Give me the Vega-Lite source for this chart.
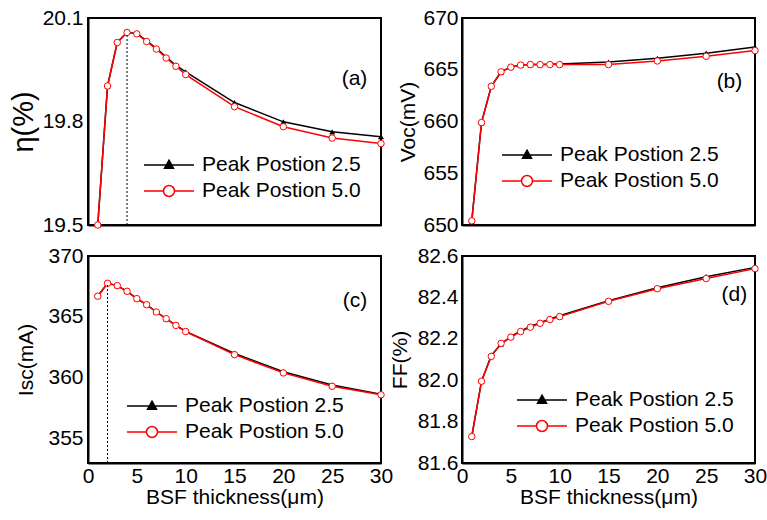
{
  "$schema": "https://vega.github.io/schema/vega-lite/v6.json",
  "padding": {"left": 8, "top": 6, "right": 0, "bottom": 0},
  "config": {
    "font": "Liberation Sans",
    "view": {"stroke": "black", "strokeWidth": 2},
    "axis": {
      "labelFont": "Liberation Sans", "labelFontSize": 21, "labelColor": "black",
      "titleFont": "Liberation Sans", "titleFontSize": 21, "titleFontWeight": "normal", "titleColor": "black",
      "domainColor": "black", "domainWidth": 2, "tickColor": "black", "tickWidth": 1.5,
      "grid": false, "labelFlush": false, "tickSize": 0, "labelPadding": 5, "titlePadding": 4, "labelOverlap": false
    },
    "legend": {
      "labelFont": "Liberation Sans", "labelFontSize": 21, "labelColor": "black", "labelLimit": 400,
      "symbolSize": 400, "labelOffset": 22, "rowPadding": 5, "orient": "none"
    }
  },
  "datasets": {
    "d": [
      {"x": 1, "s": "Peak Postion 2.5", "eta": 19.50, "voc": 650.4, "isc": 366.7, "ff": 81.728},
      {"x": 2, "s": "Peak Postion 2.5", "eta": 19.903, "voc": 659.9, "isc": 367.76, "ff": 81.995},
      {"x": 3, "s": "Peak Postion 2.5", "eta": 20.030, "voc": 663.4, "isc": 367.57, "ff": 82.12},
      {"x": 4, "s": "Peak Postion 2.5", "eta": 20.058, "voc": 664.8, "isc": 367.1, "ff": 82.175},
      {"x": 5, "s": "Peak Postion 2.5", "eta": 20.055, "voc": 665.28, "isc": 366.5, "ff": 82.21},
      {"x": 6, "s": "Peak Postion 2.5", "eta": 20.034, "voc": 665.45, "isc": 366.0, "ff": 82.238},
      {"x": 7, "s": "Peak Postion 2.5", "eta": 20.012, "voc": 665.5, "isc": 365.4, "ff": 82.26},
      {"x": 8, "s": "Peak Postion 2.5", "eta": 19.987, "voc": 665.5, "isc": 364.85, "ff": 82.278},
      {"x": 9, "s": "Peak Postion 2.5", "eta": 19.963, "voc": 665.52, "isc": 364.3, "ff": 82.296},
      {"x": 10, "s": "Peak Postion 2.5", "eta": 19.944, "voc": 665.55, "isc": 363.8, "ff": 82.312},
      {"x": 15, "s": "Peak Postion 2.5", "eta": 19.855, "voc": 665.75, "isc": 362.0, "ff": 82.384},
      {"x": 20, "s": "Peak Postion 2.5", "eta": 19.799, "voc": 666.1, "isc": 360.5, "ff": 82.447},
      {"x": 25, "s": "Peak Postion 2.5", "eta": 19.770, "voc": 666.6, "isc": 359.4, "ff": 82.5},
      {"x": 30, "s": "Peak Postion 2.5", "eta": 19.756, "voc": 667.2, "isc": 358.65, "ff": 82.545},
      {"x": 1, "s": "Peak Postion 5.0", "eta": 19.50, "voc": 650.4, "isc": 366.7, "ff": 81.728},
      {"x": 2, "s": "Peak Postion 5.0", "eta": 19.903, "voc": 659.9, "isc": 367.76, "ff": 81.995},
      {"x": 3, "s": "Peak Postion 5.0", "eta": 20.029, "voc": 663.4, "isc": 367.57, "ff": 82.115},
      {"x": 4, "s": "Peak Postion 5.0", "eta": 20.058, "voc": 664.8, "isc": 367.1, "ff": 82.178},
      {"x": 5, "s": "Peak Postion 5.0", "eta": 20.054, "voc": 665.25, "isc": 366.5, "ff": 82.208},
      {"x": 6, "s": "Peak Postion 5.0", "eta": 20.032, "voc": 665.45, "isc": 366.0, "ff": 82.235},
      {"x": 7, "s": "Peak Postion 5.0", "eta": 20.010, "voc": 665.5, "isc": 365.4, "ff": 82.256},
      {"x": 8, "s": "Peak Postion 5.0", "eta": 19.984, "voc": 665.5, "isc": 364.85, "ff": 82.275},
      {"x": 9, "s": "Peak Postion 5.0", "eta": 19.960, "voc": 665.5, "isc": 364.3, "ff": 82.293},
      {"x": 10, "s": "Peak Postion 5.0", "eta": 19.936, "voc": 665.5, "isc": 363.8, "ff": 82.307},
      {"x": 15, "s": "Peak Postion 5.0", "eta": 19.843, "voc": 665.5, "isc": 361.9, "ff": 82.381},
      {"x": 20, "s": "Peak Postion 5.0", "eta": 19.785, "voc": 665.85, "isc": 360.4, "ff": 82.442},
      {"x": 25, "s": "Peak Postion 5.0", "eta": 19.752, "voc": 666.3, "isc": 359.3, "ff": 82.491},
      {"x": 30, "s": "Peak Postion 5.0", "eta": 19.736, "voc": 666.85, "isc": 358.6, "ff": 82.539}
    ]
  },
  "columns": 2,
  "spacing": {"row": 8, "column": -6},
  "resolve": {
    "scale": {"x": "independent", "y": "independent", "stroke": "independent"},
    "legend": {"stroke": "independent"}
  },
  "concat": [
    {
      "width": 293, "height": 207,
      "data": {"name": "d"},
      "layer": [
        {
          "mark": {"type": "line", "strokeWidth": 1.5},
          "encoding": {
            "x": {"field": "x", "type": "quantitative", "scale": {"domain": [0, 30], "nice": false},
              "axis": {"title": null, "labels": false, "values": [0, 2.5, 5, 7.5, 10, 12.5, 15, 17.5, 20, 22.5, 25, 27.5, 30],
                "encode": {"ticks": {"update": {"y2": {"signal": "datum.value % 5 === 0 ? -6 : -3"}}}}}},
            "y": {"field": "eta", "type": "quantitative", "scale": {"domain": [19.5, 20.1], "nice": false, "zero": false},
              "axis": {"title": "η(%)", "titleFontSize": 29, "format": ".1f", "values": [19.5, 19.65, 19.8, 19.95, 20.1],
                "labelExpr": "abs(datum.value*10 - round(datum.value*10)) < 0.01 ? datum.label : ''",
                "encode": {"ticks": {"update": {"x2": {"signal": "abs(datum.value*10 - round(datum.value*10)) < 0.01 ? 6 : 3"}}}}}},
            "stroke": {"field": "s", "type": "nominal", "scale": {"domain": ["Peak Postion 2.5", "Peak Postion 5.0"], "range": ["black", "red"]},
              "legend": {"title": null, "legendX": 70, "legendY": 136,
                "encode": {"symbols": {"update": {
                  "shape": {"signal": "datum.value === 'Peak Postion 2.5' ? 'M-2.5,0H2.5M0,-0.48L0.45,0.33L-0.45,0.33Z' : 'M-2.5,0H-0.55M0.55,0H2.5M0.55,0A0.55,0.55,0,1,1,-0.55,0A0.55,0.55,0,1,1,0.55,0Z'"},
                  "fill": {"signal": "datum.value === 'Peak Postion 2.5' ? 'black' : 'white'"},
                  "strokeWidth": {"value": 1.5}, "opacity": {"value": 1}, "fillOpacity": {"value": 1}}}}}}
          }
        },
        {
          "transform": [{"filter": "datum.s === 'Peak Postion 2.5'"}],
          "mark": {"type": "point", "shape": "triangle-up", "size": 36, "filled": true, "color": "black", "opacity": 1},
          "encoding": {"x": {"field": "x", "type": "quantitative"}, "y": {"field": "eta", "type": "quantitative"}}
        },
        {
          "transform": [{"filter": "datum.s === 'Peak Postion 5.0'"}],
          "mark": {"type": "point", "shape": "circle", "size": 42, "fill": "white", "stroke": "red", "strokeWidth": 1, "opacity": 1, "fillOpacity": 1},
          "encoding": {"x": {"field": "x", "type": "quantitative"}, "y": {"field": "eta", "type": "quantitative"}}
        },
        {
          "data": {"values": [{}]},
          "mark": {"type": "rule", "strokeDash": [2, 2], "strokeWidth": 1, "color": "black"},
          "encoding": {"x": {"datum": 4}, "y": {"datum": 19.5}, "y2": {"datum": 20.05}}
        },
        {
          "data": {"values": [{}]},
          "mark": {"type": "text", "text": "(a)", "fontSize": 21, "align": "right", "baseline": "middle", "color": "black"},
          "encoding": {"x": {"datum": 28.6}, "y": {"datum": 19.923}}
        }
      ]
    },
    {
      "width": 293, "height": 207,
      "data": {"name": "d"},
      "layer": [
        {
          "mark": {"type": "line", "strokeWidth": 1.5},
          "encoding": {
            "x": {"field": "x", "type": "quantitative", "scale": {"domain": [0, 30], "nice": false},
              "axis": {"title": null, "labels": false, "values": [0, 2.5, 5, 7.5, 10, 12.5, 15, 17.5, 20, 22.5, 25, 27.5, 30],
                "encode": {"ticks": {"update": {"y2": {"signal": "datum.value % 5 === 0 ? -6 : -3"}}}}}},
            "y": {"field": "voc", "type": "quantitative", "scale": {"domain": [650, 670], "nice": false, "zero": false},
              "axis": {"title": "Voc(mV)", "format": "d", "values": [650, 652.5, 655, 657.5, 660, 662.5, 665, 667.5, 670],
                "labelExpr": "datum.value % 5 === 0 ? datum.label : ''", "labelPadding": 4,
                "encode": {"ticks": {"update": {"x2": {"signal": "datum.value % 5 === 0 ? 6 : 3"}}}}}},
            "stroke": {"field": "s", "type": "nominal", "scale": {"domain": ["Peak Postion 2.5", "Peak Postion 5.0"], "range": ["black", "red"]},
              "legend": {"title": null, "legendX": 54, "legendY": 126,
                "encode": {"symbols": {"update": {
                  "shape": {"signal": "datum.value === 'Peak Postion 2.5' ? 'M-2.5,0H2.5M0,-0.48L0.45,0.33L-0.45,0.33Z' : 'M-2.5,0H-0.55M0.55,0H2.5M0.55,0A0.55,0.55,0,1,1,-0.55,0A0.55,0.55,0,1,1,0.55,0Z'"},
                  "fill": {"signal": "datum.value === 'Peak Postion 2.5' ? 'black' : 'white'"},
                  "strokeWidth": {"value": 1.5}, "opacity": {"value": 1}, "fillOpacity": {"value": 1}}}}}}
          }
        },
        {
          "transform": [{"filter": "datum.s === 'Peak Postion 2.5'"}],
          "mark": {"type": "point", "shape": "triangle-up", "size": 36, "filled": true, "color": "black", "opacity": 1},
          "encoding": {"x": {"field": "x", "type": "quantitative"}, "y": {"field": "voc", "type": "quantitative"}}
        },
        {
          "transform": [{"filter": "datum.s === 'Peak Postion 5.0'"}],
          "mark": {"type": "point", "shape": "circle", "size": 42, "fill": "white", "stroke": "red", "strokeWidth": 1, "opacity": 1, "fillOpacity": 1},
          "encoding": {"x": {"field": "x", "type": "quantitative"}, "y": {"field": "voc", "type": "quantitative"}}
        },
        {
          "data": {"values": [{}]},
          "mark": {"type": "text", "text": "(b)", "fontSize": 21, "align": "right", "baseline": "middle", "color": "black"},
          "encoding": {"x": {"datum": 28.7}, "y": {"datum": 663.85}}
        }
      ]
    },
    {
      "width": 293, "height": 207,
      "data": {"name": "d"},
      "layer": [
        {
          "mark": {"type": "line", "strokeWidth": 1.5},
          "encoding": {
            "x": {"field": "x", "type": "quantitative", "scale": {"domain": [0, 30], "nice": false},
              "axis": {"title": "BSF thickness(μm)", "values": [0, 2.5, 5, 7.5, 10, 12.5, 15, 17.5, 20, 22.5, 25, 27.5, 30],
                "labelExpr": "datum.value % 5 === 0 ? datum.label : ''", "labelPadding": 2, "titlePadding": 0,
                "encode": {"ticks": {"update": {"y2": {"signal": "datum.value % 5 === 0 ? -6 : -3"}}}}}},
            "y": {"field": "isc", "type": "quantitative", "scale": {"domain": [353, 370], "nice": false, "zero": false},
              "axis": {"title": "Isc(mA)", "format": "d", "values": [355, 357.5, 360, 362.5, 365, 367.5, 370], "titlePadding": 11,
                "labelExpr": "datum.value % 5 === 0 ? datum.label : ''",
                "encode": {"ticks": {"update": {"x2": {"signal": "datum.value % 5 === 0 ? 6 : 3"}}}}}},
            "stroke": {"field": "s", "type": "nominal", "scale": {"domain": ["Peak Postion 2.5", "Peak Postion 5.0"], "range": ["black", "red"]},
              "legend": {"title": null, "legendX": 53, "legendY": 139,
                "encode": {"symbols": {"update": {
                  "shape": {"signal": "datum.value === 'Peak Postion 2.5' ? 'M-2.5,0H2.5M0,-0.48L0.45,0.33L-0.45,0.33Z' : 'M-2.5,0H-0.55M0.55,0H2.5M0.55,0A0.55,0.55,0,1,1,-0.55,0A0.55,0.55,0,1,1,0.55,0Z'"},
                  "fill": {"signal": "datum.value === 'Peak Postion 2.5' ? 'black' : 'white'"},
                  "strokeWidth": {"value": 1.5}, "opacity": {"value": 1}, "fillOpacity": {"value": 1}}}}}}
          }
        },
        {
          "transform": [{"filter": "datum.s === 'Peak Postion 2.5'"}],
          "mark": {"type": "point", "shape": "triangle-up", "size": 36, "filled": true, "color": "black", "opacity": 1},
          "encoding": {"x": {"field": "x", "type": "quantitative"}, "y": {"field": "isc", "type": "quantitative"}}
        },
        {
          "transform": [{"filter": "datum.s === 'Peak Postion 5.0'"}],
          "mark": {"type": "point", "shape": "circle", "size": 42, "fill": "white", "stroke": "red", "strokeWidth": 1, "opacity": 1, "fillOpacity": 1},
          "encoding": {"x": {"field": "x", "type": "quantitative"}, "y": {"field": "isc", "type": "quantitative"}}
        },
        {
          "data": {"values": [{}]},
          "mark": {"type": "rule", "strokeDash": [2, 2], "strokeWidth": 1, "color": "black"},
          "encoding": {"x": {"datum": 2}, "y": {"datum": 353}, "y2": {"datum": 367.7}}
        },
        {
          "data": {"values": [{}]},
          "mark": {"type": "text", "text": "(c)", "fontSize": 21, "align": "right", "baseline": "middle", "color": "black"},
          "encoding": {"x": {"datum": 28.6}, "y": {"datum": 366.3}}
        }
      ]
    },
    {
      "width": 293, "height": 207,
      "data": {"name": "d"},
      "layer": [
        {
          "mark": {"type": "line", "strokeWidth": 1.5},
          "encoding": {
            "x": {"field": "x", "type": "quantitative", "scale": {"domain": [0, 30], "nice": false},
              "axis": {"title": "BSF thickness(μm)", "values": [0, 2.5, 5, 7.5, 10, 12.5, 15, 17.5, 20, 22.5, 25, 27.5, 30],
                "labelExpr": "datum.value % 5 === 0 ? datum.label : ''", "labelPadding": 2, "titlePadding": 0,
                "encode": {"ticks": {"update": {"y2": {"signal": "datum.value % 5 === 0 ? -6 : -3"}}}}}},
            "y": {"field": "ff", "type": "quantitative", "scale": {"domain": [81.6, 82.6], "nice": false, "zero": false},
              "axis": {"title": "FF(%)", "format": ".1f", "values": [81.6, 81.7, 81.8, 81.9, 82.0, 82.1, 82.2, 82.3, 82.4, 82.5, 82.6],
                "labelExpr": "abs(datum.value*5 - round(datum.value*5)) < 0.01 ? datum.label : ''", "labelPadding": 4, "titlePadding": 7,
                "encode": {"ticks": {"update": {"x2": {"signal": "abs(datum.value*5 - round(datum.value*5)) < 0.01 ? 6 : 3"}}}}}},
            "stroke": {"field": "s", "type": "nominal", "scale": {"domain": ["Peak Postion 2.5", "Peak Postion 5.0"], "range": ["black", "red"]},
              "legend": {"title": null, "legendX": 69, "legendY": 133,
                "encode": {"symbols": {"update": {
                  "shape": {"signal": "datum.value === 'Peak Postion 2.5' ? 'M-2.5,0H2.5M0,-0.48L0.45,0.33L-0.45,0.33Z' : 'M-2.5,0H-0.55M0.55,0H2.5M0.55,0A0.55,0.55,0,1,1,-0.55,0A0.55,0.55,0,1,1,0.55,0Z'"},
                  "fill": {"signal": "datum.value === 'Peak Postion 2.5' ? 'black' : 'white'"},
                  "strokeWidth": {"value": 1.5}, "opacity": {"value": 1}, "fillOpacity": {"value": 1}}}}}}
          }
        },
        {
          "transform": [{"filter": "datum.s === 'Peak Postion 2.5'"}],
          "mark": {"type": "point", "shape": "triangle-up", "size": 36, "filled": true, "color": "black", "opacity": 1},
          "encoding": {"x": {"field": "x", "type": "quantitative"}, "y": {"field": "ff", "type": "quantitative"}}
        },
        {
          "transform": [{"filter": "datum.s === 'Peak Postion 5.0'"}],
          "mark": {"type": "point", "shape": "circle", "size": 42, "fill": "white", "stroke": "red", "strokeWidth": 1, "opacity": 1, "fillOpacity": 1},
          "encoding": {"x": {"field": "x", "type": "quantitative"}, "y": {"field": "ff", "type": "quantitative"}}
        },
        {
          "data": {"values": [{}]},
          "mark": {"type": "text", "text": "(d)", "fontSize": 21, "align": "right", "baseline": "middle", "color": "black"},
          "encoding": {"x": {"datum": 29.2}, "y": {"datum": 82.41}}
        }
      ]
    }
  ]
}
